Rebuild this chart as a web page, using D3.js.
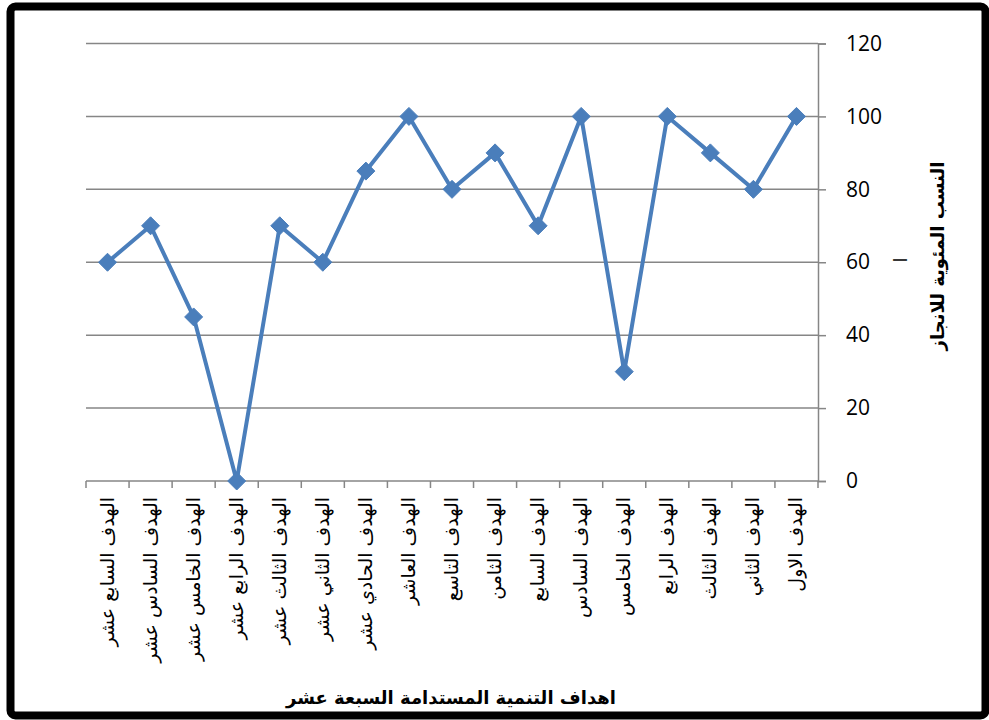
<!DOCTYPE html>
<html><head><meta charset="utf-8">
<script src="https://cdn.jsdelivr.net/npm/d3@7"></script>
<style>
html,body{margin:0;padding:0;background:#fff;}
svg{display:block;}
</style></head>
<body>
<svg id="chart" width="989" height="720"></svg>
<script>
// Goals in order 1..17 (drawn right-to-left)
const categories = [
  "الهدف الاول","الهدف الثاني","الهدف الثالث","الهدف الرابع","الهدف الخامس",
  "الهدف السادس","الهدف السابع","الهدف الثامن","الهدف التاسع","الهدف العاشر",
  "الهدف الحادي عشر","الهدف الثاني عشر","الهدف الثالث عشر","الهدف الرابع عشر",
  "الهدف الخامس عشر","الهدف السادس عشر","الهدف السابع عشر"
];
const values = [100,80,90,100,30,100,70,90,80,100,85,60,70,0,45,70,60];
const yTicks = [0,20,40,60,80,100,120];
const yTitle = "النسب المئوية للانجاز";
const xTitle = "اهداف التنمية المستدامة السبعة عشر";

const svg = d3.select("#chart");
const pLeft = 86, pRight = 818, pTop = 43.5, pBottom = 481;

// frame
svg.append("rect").attr("x",10.5).attr("y",6.5).attr("width",975).attr("height",709)
  .attr("rx",5).attr("fill","#fff").attr("stroke","#000").attr("stroke-width",8);

const x = d3.scaleBand().domain(categories.slice().reverse()).range([pLeft,pRight]).padding(0);
const y = d3.scaleLinear().domain([0,120]).range([pBottom,pTop]);

// gridlines
svg.append("g").selectAll("line").data(yTicks.filter(d=>d>0)).join("line")
  .attr("x1",pLeft).attr("x2",pRight).attr("y1",d=>y(d)).attr("y2",d=>y(d))
  .attr("stroke","#868686").attr("stroke-width",1.5);

// right y axis
const yAxis = svg.append("g").attr("transform",`translate(${pRight},0)`)
  .call(d3.axisRight(y).tickValues(yTicks).tickSize(8).tickPadding(20).tickFormat(d3.format("d")));
yAxis.select(".domain").attr("stroke","#868686").attr("stroke-width",1.5);
yAxis.selectAll(".tick line").attr("stroke","#868686").attr("stroke-width",1.5);
yAxis.selectAll(".tick text").attr("font-family","'Open Sans','Liberation Sans',sans-serif")
  .attr("font-size",21).attr("fill","#000");

// bottom x axis
const xAxis = svg.append("g").attr("transform",`translate(0,${pBottom})`);
xAxis.append("line").attr("x1",pLeft).attr("x2",pRight).attr("stroke","#868686").attr("stroke-width",1.5);
const bounds = x.domain().map(d=>x(d)).concat([pRight]);
xAxis.selectAll("line.tk").data(bounds).join("line").attr("class","tk")
  .attr("x1",d=>d).attr("x2",d=>d).attr("y1",0).attr("y2",7)
  .attr("stroke","#868686").attr("stroke-width",1.5);

// category labels (rotated, reading top to bottom)
svg.append("g").selectAll("text").data(categories).join("text")
  .attr("transform",d=>`translate(${x(d)+x.bandwidth()/2+6},${pBottom+16}) rotate(-90)`)
  .attr("text-anchor","end")
  .attr("font-family","'DejaVu Serif','DejaVu Sans',serif")
  .attr("font-size",19).attr("fill","#000")
  .text(d=>d);

// line
const pts = categories.map((c,i)=>({c, v: values[i]}));
const line = d3.line().x(d=>x(d.c)+x.bandwidth()/2).y(d=>y(d.v));
svg.append("path").datum(pts.slice().reverse()).attr("d",line)
  .attr("fill","none").attr("stroke","#4a7ebb").attr("stroke-width",4).attr("stroke-linejoin","round");

// diamond markers
svg.append("g").selectAll("path").data(pts).join("path")
  .attr("transform",d=>`translate(${x(d.c)+x.bandwidth()/2},${y(d.v)})`)
  .attr("d","M0,-9L9,0L0,9L-9,0Z").attr("fill","#4a7ebb").attr("stroke","#4a7ebb").attr("stroke-width",1);

// y title
svg.append("text").attr("transform","translate(944,256) rotate(-90)")
  .attr("text-anchor","middle").attr("font-family","'DejaVu Sans',sans-serif")
  .attr("font-weight","bold").attr("font-size",18).attr("fill","#000").text(yTitle);
svg.append("text").attr("transform","translate(907,260) rotate(-90)")
  .attr("text-anchor","middle").attr("font-family","'DejaVu Sans',sans-serif")
  .attr("font-size",18).attr("fill","#000").text("ا");

// x title
svg.append("text").attr("x",451).attr("y",704)
  .attr("text-anchor","middle").attr("font-family","'DejaVu Sans',sans-serif")
  .attr("font-weight","bold").attr("font-size",18).attr("fill","#000").text(xTitle);
</script>
</body></html>
